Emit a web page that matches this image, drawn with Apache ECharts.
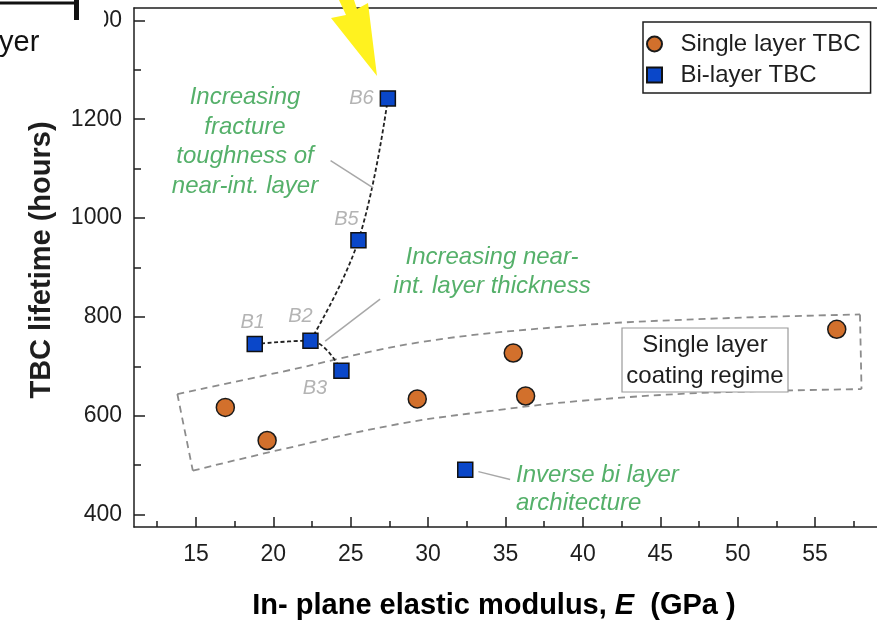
<!DOCTYPE html>
<html>
<head>
<meta charset="utf-8">
<title>TBC lifetime vs in-plane elastic modulus</title>
<script src="https://cdn.jsdelivr.net/npm/echarts@6/dist/echarts.min.js"></script>
<style>
  html, body { margin: 0; padding: 0; background: #fff; }
  #main { width: 877px; height: 621px; }
</style>
</head>
<body>
<div id="main"></div>
<script>
// ---- data (E in GPa, lifetime in hours) ----
var singleLayer = [[16.9, 617], [19.6, 550], [29.3, 634], [35.5, 727], [36.3, 640], [56.4, 775]];
var biLayerNames = ['B1', 'B2', 'B3', 'B5', 'B6', ''];
var biLayer = [[18.8, 745], [22.4, 752], [24.4, 691], [25.5, 955], [27.4, 1242], [32.4, 491]];
var pathNearThickness = [0, 1, 2];   // B1 -> B2 -> B3
var pathToughness = [1, 3, 4];       // B2 -> B5 -> B6

// dashed "single layer coating regime" band, in data units
var regimeTop = [[13.8, 644], [20.4, 688], [29.5, 749], [39.8, 783], [48.8, 797], [57.9, 805]];
var regimeBottom = [[14.8, 489], [20.4, 531], [28.2, 584], [34.6, 612], [39.8, 630], [47.5, 646], [58.0, 654]];
// thin leader lines from the notes to the marks
var leaderLines = [
  [[23.7, 1116], [26.45, 1061]],
  [[23.35, 751], [26.9, 836]],
  [[33.25, 487], [35.3, 471]]
];

var xTicks = [15, 20, 25, 30, 35, 40, 45, 50, 55];
var xMinorTicks = [12.5, 17.5, 22.5, 27.5, 32.5, 37.5, 42.5, 47.5, 52.5, 57.5];
var yTicks = [400, 600, 800, 1000, 1200, 1400];
var yMinorTicks = [500, 700, 900, 1100, 1300];

var FONT = '"Liberation Sans", Arial, Helvetica, sans-serif';
var INK = '#1e1e1e';
var GREEN = '#55b06a';

var biLabelPlace = {
  B1: { position: 'top', distance: 3, offset: [-2, 0] },
  B2: { position: 'top', distance: 4, offset: [-10, -2] },
  B3: { position: 'left', distance: 6, offset: [0, 18] },
  B5: { position: 'top', distance: 3, offset: [-12, 0] },
  B6: { position: 'left', distance: 6, offset: [0, 0] }
};

function pick(idx) {
  return idx.map(function (i) { return biLayer[i]; });
}

var biData = biLayer.map(function (p, i) {
  var name = biLayerNames[i];
  var item = { value: p, name: name };
  if (name) {
    item.label = Object.assign({ show: true, formatter: name }, biLabelPlace[name]);
  }
  return item;
});

function guide(data, style, smooth) {
  return {
    type: 'line', data: data, symbol: 'none', silent: true, z: 1,
    smooth: smooth || false, lineStyle: style
  };
}

var regimeStyle = { color: '#8c8c8c', width: 1.8, type: [7, 5] };
var curveStyle = { color: '#222', width: 1.8, type: [4, 2.5] };
var leaderStyle = { color: '#a8a8a8', width: 1.5 };

var guideSeries = [
  guide(regimeTop, regimeStyle, 0.35),
  guide(regimeBottom, regimeStyle, 0.35),
  guide([regimeTop[0], regimeBottom[0]], regimeStyle),
  guide([regimeTop[regimeTop.length - 1], regimeBottom[regimeBottom.length - 1]], regimeStyle),
  guide(pick(pathNearThickness), curveStyle, 0.4),
  guide(pick(pathToughness), curveStyle, 0.4)
].concat(leaderLines.map(function (seg) { return guide(seg, leaderStyle); }));

var chart = echarts.init(document.getElementById('main'));

var axisLine = { lineStyle: { color: INK, width: 1.5 } };
var tickStyle = { color: INK, width: 1.5 };

option = {
  animation: false,
  grid: { left: 134, top: 8, right: 0, bottom: 94, outerBoundsMode: 'none' },
  legend: {
    orient: 'vertical',
    left: 643,
    top: 22,
    padding: [10, 10, 6, 3],
    itemGap: 7,
    itemWidth: 22,
    itemHeight: 15,
    borderColor: INK,
    borderWidth: 1.5,
    backgroundColor: '#fff',
    textStyle: { fontFamily: FONT, fontSize: 24, color: INK, padding: [0, 0, 0, 10] },
    data: [
      { name: 'Single layer TBC', icon: 'circle' },
      { name: 'Bi-layer TBC', icon: 'path://M0,0H10V10H0Z' }
    ]
  },
  xAxis: [
    {
      type: 'value', min: 11, max: 59, position: 'bottom',
      axisLine: axisLine,
      axisTick: { inside: true, length: 10, customValues: xTicks, lineStyle: tickStyle },
      axisLabel: { customValues: xTicks, color: INK, fontSize: 23, fontFamily: FONT, margin: 16 },
      splitLine: { show: false }
    },
    {
      type: 'value', min: 11, max: 59, position: 'bottom',
      axisLine: { show: false },
      axisTick: { inside: true, length: 6, customValues: xMinorTicks, lineStyle: tickStyle },
      axisLabel: { show: false },
      splitLine: { show: false }
    },
    {
      type: 'value', min: 11, max: 59, position: 'top',
      axisLine: axisLine,
      axisTick: { show: false },
      axisLabel: { show: false },
      splitLine: { show: false }
    }
  ],
  yAxis: [
    {
      type: 'value', min: 375, max: 1425, position: 'left',
      axisLine: axisLine,
      axisTick: { inside: true, length: 11, customValues: yTicks, lineStyle: tickStyle },
      axisLabel: {
        customValues: yTicks, color: INK, fontSize: 23, fontFamily: FONT, margin: 12,
        formatter: function (v) { return String(v); }
      },
      splitLine: { show: false }
    },
    {
      type: 'value', min: 375, max: 1425, position: 'left',
      axisLine: { show: false },
      axisTick: { inside: true, length: 7, customValues: yMinorTicks, lineStyle: tickStyle },
      axisLabel: { show: false },
      splitLine: { show: false }
    }
  ],
  series: guideSeries.concat([
    {
      name: 'Single layer TBC',
      type: 'scatter',
      symbol: 'circle',
      symbolSize: 18,
      z: 5,
      itemStyle: { color: '#d2702c', borderColor: '#1a1a1a', borderWidth: 1.5, opacity: 1 },
      data: singleLayer
    },
    {
      name: 'Bi-layer TBC',
      type: 'scatter',
      symbol: 'rect',
      symbolSize: 15,
      z: 5,
      itemStyle: { color: '#0a47c9', borderColor: '#111', borderWidth: 1.5, opacity: 1 },
      label: { fontFamily: FONT, fontStyle: 'italic', fontSize: 20, color: '#b4b4b4' },
      data: biData
    }
  ]),
  graphic: [
    // axis titles
    {
      type: 'text', x: 42, y: 260, rotation: Math.PI / 2, z: 10,
      style: {
        text: 'TBC lifetime (hours)', font: 'bold 29px ' + FONT, fill: INK,
        align: 'center', verticalAlign: 'middle'
      }
    },
    {
      type: 'text', x: 494, y: 606, z: 10,
      style: {
        text: '{b|In- plane elastic modulus, }{i|E}{b|  (GPa )}',
        align: 'center', verticalAlign: 'middle',
        rich: {
          b: { fontFamily: FONT, fontWeight: 'bold', fontSize: 29, color: INK },
          i: { fontFamily: FONT, fontWeight: 'bold', fontStyle: 'italic', fontSize: 29, color: INK }
        }
      }
    },
    // annotations
    {
      type: 'text', x: 245, y: 142, z: 10,
      style: {
        text: 'Increasing\nfracture\ntoughness of\nnear-int. layer',
        font: 'italic 24px ' + FONT, fill: GREEN, lineHeight: 29.5,
        align: 'center', verticalAlign: 'middle'
      }
    },
    {
      type: 'text', x: 492, y: 272, z: 10,
      style: {
        text: 'Increasing near-\nint. layer thickness',
        font: 'italic 24px ' + FONT, fill: GREEN, lineHeight: 29.5,
        align: 'center', verticalAlign: 'middle'
      }
    },
    {
      type: 'text', x: 516, y: 489, z: 10,
      style: {
        text: 'Inverse bi layer\narchitecture',
        font: 'italic 24px ' + FONT, fill: GREEN, lineHeight: 28,
        align: 'left', verticalAlign: 'middle'
      }
    },
    {
      type: 'rect', z: 10,
      shape: { x: 622, y: 328, width: 166, height: 64 },
      style: { fill: '#fff', stroke: '#9a9a9a', lineWidth: 1.2 }
    },
    {
      type: 'text', x: 705, y: 361, z: 11,
      style: {
        text: 'Single layer\ncoating regime', font: '24px ' + FONT, fill: INK,
        lineHeight: 31.5, align: 'center', verticalAlign: 'middle'
      }
    },
    // yellow pointer arrow at the top
    {
      type: 'polygon', z: 12,
      shape: { points: [[339, 0], [346, 15], [331, 18], [377, 76], [368, 3], [357, 9], [354, 0]] },
      style: { fill: '#fff21f' }
    },
    // remains of the neighbouring panel, cropped at the top-left
    {
      type: 'rect', z: 12,
      shape: { x: 0, y: 0, width: 104, height: 60 },
      style: { fill: '#fff' }
    },
    {
      type: 'rect', z: 13,
      shape: { x: 0, y: 1.5, width: 79, height: 3 },
      style: { fill: '#111' }
    },
    {
      type: 'rect', z: 13,
      shape: { x: 74, y: 0, width: 5, height: 20 },
      style: { fill: '#111' }
    },
    {
      type: 'text', x: -1, y: 57, z: 13,
      style: { text: 'yer', font: '29px ' + FONT, fill: '#111', align: 'left', verticalAlign: 'bottom' }
    }
  ]
};

chart.setOption(option);
</script>
</body>
</html>
